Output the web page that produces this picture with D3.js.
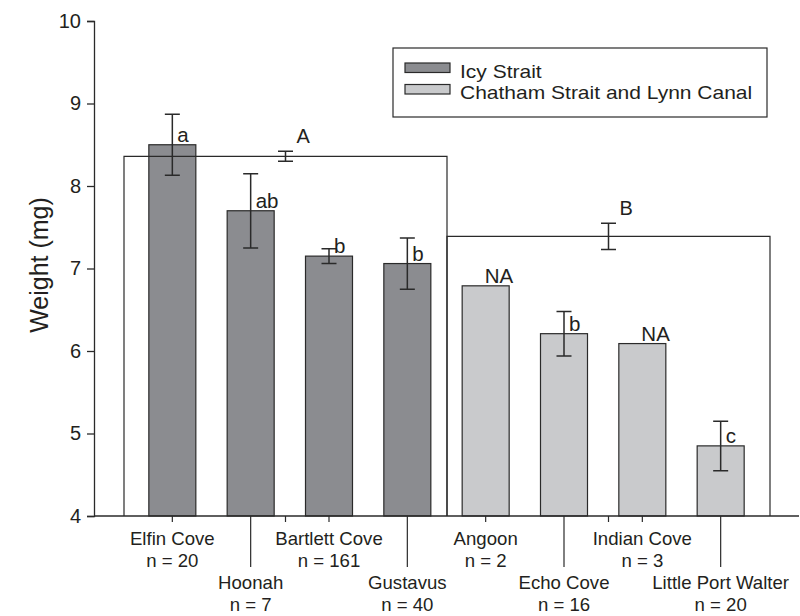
<!DOCTYPE html>
<html>
<head>
<meta charset="utf-8">
<script src="https://cdn.jsdelivr.net/npm/d3@7"></script>
<style>
  html, body { margin: 0; padding: 0; background: #fff; }
  svg text { font-family: "Liberation Sans", Arial, Helvetica, sans-serif; fill: #231f20; }
</style>
</head>
<body>
<svg id="chart" width="800" height="616"></svg>
<script>
// Sites, in plotting order
const sites = ["Elfin Cove", "Hoonah", "Bartlett Cove", "Gustavus",
               "Angoon", "Echo Cove", "Indian Cove", "Little Port Walter"];
const sampleSizes = [20, 7, 161, 40, 2, 16, 3, 20];
const region = ["Icy Strait", "Icy Strait", "Icy Strait", "Icy Strait",
                "Chatham Strait and Lynn Canal", "Chatham Strait and Lynn Canal",
                "Chatham Strait and Lynn Canal", "Chatham Strait and Lynn Canal"];
// Mean weight (mg) and its error per site (null = not available)
const meanWeight = [8.50, 7.70, 7.15, 7.06, 6.79, 6.21, 6.09, 4.85];
const weightError = [0.37, 0.45, 0.09, 0.31, null, 0.27, null, 0.30];
const siteLetters = ["a", "ab", "b", "b", "NA", "b", "NA", "c"];

// Regional means
const regions = ["Icy Strait", "Chatham Strait and Lynn Canal"];
const regionMean = [8.36, 7.39];
const regionError = [0.06, 0.16];
const regionLetters = ["A", "B"];

const yTicks = [4, 5, 6, 7, 8, 9, 10];

const fills = { "Icy Strait": "#8b8c90", "Chatham Strait and Lynn Canal": "#c9cacc" };
const ink = "#2a2a2a";

const svg = d3.select("#chart");

const y = d3.scaleLinear().domain([4, 10]).range([516, 21]);
const x = d3.scaleBand().domain(sites).range([94, 799])
  .paddingInner(0.4).paddingOuter(0.7);
const xg = d3.scaleBand().domain(regions).range([124, 770]).padding(0);

const cx = s => x(s) + x.bandwidth() / 2;
const gx = r => xg(r) + xg.bandwidth() / 2;

// Regional boxes (background)
svg.append("g").selectAll("rect").data(regions).join("rect")
  .attr("x", r => xg(r))
  .attr("width", xg.bandwidth())
  .attr("y", (r, i) => y(regionMean[i]))
  .attr("height", (r, i) => y(4) - y(regionMean[i]))
  .attr("fill", "#fff");

// Site bars
svg.append("g").selectAll("rect").data(sites).join("rect")
  .attr("x", s => x(s))
  .attr("width", x.bandwidth())
  .attr("y", (s, i) => y(meanWeight[i]))
  .attr("height", (s, i) => y(4) - y(meanWeight[i]))
  .attr("fill", (s, i) => fills[region[i]])
  .attr("stroke", ink)
  .attr("stroke-width", 1.2);

// Regional box outlines drawn over the bars
svg.append("g").selectAll("path").data(regions).join("path")
  .attr("d", (r, i) => {
    const x0 = xg(r), x1 = xg(r) + xg.bandwidth(), yt = y(regionMean[i]), yb = y(4);
    return `M${x0},${yb}V${yt}H${x1}V${yb}`;
  })
  .attr("fill", "none")
  .attr("stroke", ink)
  .attr("stroke-width", 1.2);

// Error bars
function errorBar(g, xc, mean, err) {
  const capHalf = 7.5;
  const yt = y(mean + err), yb = y(mean - err);
  g.append("path")
    .attr("d", `M${xc},${yt}V${yb}M${xc - capHalf},${yt}H${xc + capHalf}M${xc - capHalf},${yb}H${xc + capHalf}`)
    .attr("fill", "none")
    .attr("stroke", ink)
    .attr("stroke-width", 1.5);
}
const eb = svg.append("g");
sites.forEach((s, i) => {
  if (weightError[i] != null) errorBar(eb, cx(s), meanWeight[i], weightError[i]);
});
regions.forEach((r, i) => errorBar(eb, gx(r), regionMean[i], regionError[i]));

// Significance letters
svg.append("g").selectAll("text").data(sites).join("text")
  .attr("x", (s, i) => cx(s) + (weightError[i] != null ? 5 : -1))
  .attr("y", (s, i) => y(meanWeight[i]) - 3)
  .attr("font-size", 20.5)
  .text((s, i) => siteLetters[i]);

svg.append("g").selectAll("text").data(regions).join("text")
  .attr("x", r => gx(r) + 11)
  .attr("y", (r, i) => y(regionMean[i] + regionError[i]) - 8)
  .attr("font-size", 20)
  .text((r, i) => regionLetters[i]);

// Y axis
const yAxis = svg.append("g")
  .attr("transform", "translate(94,0)")
  .call(d3.axisLeft(y).tickValues(yTicks).tickSize(7).tickPadding(6).tickFormat(d3.format("d")));
yAxis.select(".domain").attr("stroke", ink).attr("stroke-width", 1.3);
yAxis.selectAll(".tick line").attr("stroke", ink).attr("stroke-width", 1.3);
yAxis.selectAll(".tick text").attr("font-size", 20).attr("fill", "#231f20")
  .attr("font-family", "Liberation Sans, Arial, sans-serif");

svg.append("text")
  .attr("transform", "translate(48,265) rotate(-90)")
  .attr("text-anchor", "middle")
  .attr("font-size", 25)
  .text("Weight (mg)");

// X axis: short ticks for the upper label row and region centres, long ticks for the lower row
const xAxisG = svg.append("g");
xAxisG.append("line")
  .attr("x1", 94).attr("x2", 799).attr("y1", y(4)).attr("y2", y(4))
  .attr("stroke", ink).attr("stroke-width", 1.6);

const tickPos = sites.map((s, i) => ({ x: cx(s), len: i % 2 ? 51 : 6 }))
  .concat(regions.map(r => ({ x: gx(r), len: 6 })));
xAxisG.selectAll("line.tk").data(tickPos).join("line")
  .attr("class", "tk")
  .attr("x1", d => d.x).attr("x2", d => d.x)
  .attr("y1", y(4)).attr("y2", d => y(4) + d.len)
  .attr("stroke", ink).attr("stroke-width", 1.2);

const labelRows = [[545, 567], [589, 611]];
const lab = xAxisG.selectAll("g.lab").data(sites).join("g").attr("class", "lab");
lab.append("text")
  .attr("x", s => cx(s))
  .attr("y", (s, i) => labelRows[i % 2][0])
  .attr("text-anchor", "middle")
  .attr("font-size", 18.6)
  .text(s => s);
lab.append("text")
  .attr("x", s => cx(s))
  .attr("y", (s, i) => labelRows[i % 2][1])
  .attr("text-anchor", "middle")
  .attr("font-size", 18.6)
  .text((s, i) => `n = ${sampleSizes[i]}`);

// Legend (labels set slightly wide, as in the typeset figure)
const legend = svg.append("g");
legend.append("rect")
  .attr("x", 393).attr("y", 48).attr("width", 374).attr("height", 69)
  .attr("fill", "#fff").attr("stroke", ink).attr("stroke-width", 1.2);
const li = legend.selectAll("g.item").data(regions).join("g").attr("class", "item")
  .attr("transform", (r, i) => `translate(405,${63 + i * 21.5})`);
li.append("rect")
  .attr("width", 45).attr("height", 9.5)
  .attr("fill", r => fills[r]).attr("stroke", ink).attr("stroke-width", 1.2);
li.append("text")
  .attr("transform", "translate(55,14.5) scale(1.13,1)")
  .attr("font-size", 18.6)
  .text(r => r);
</script>
</body>
</html>
